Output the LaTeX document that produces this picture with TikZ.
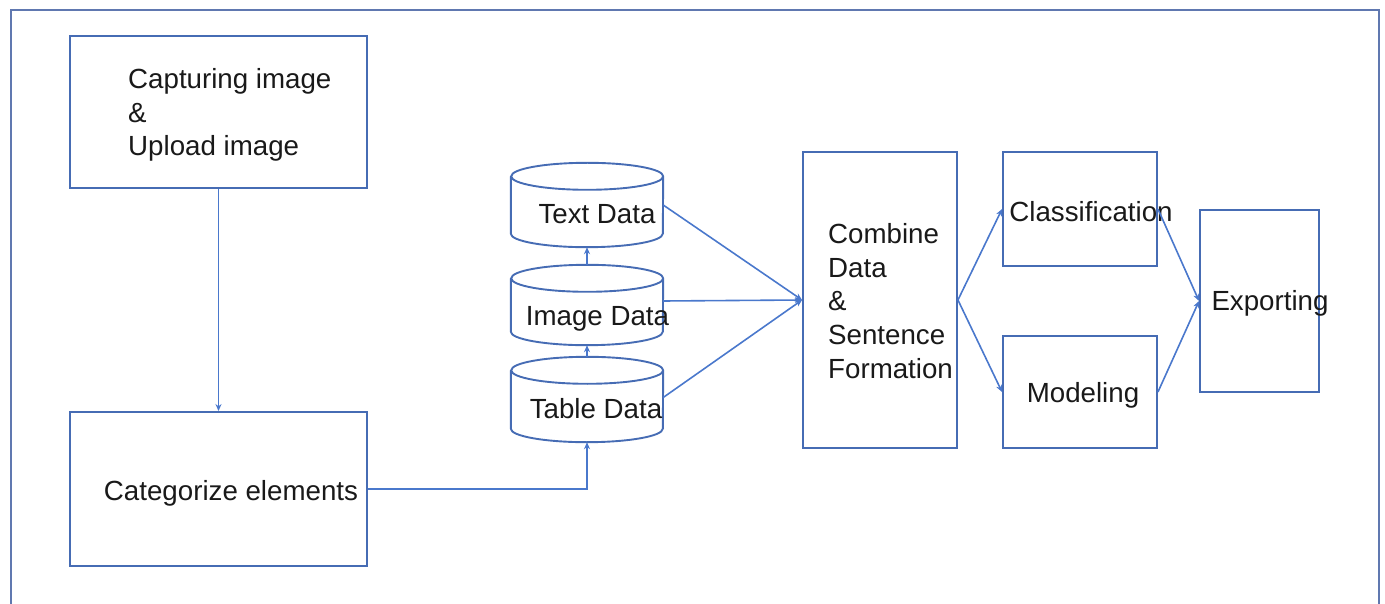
\documentclass[tikz,border=0pt]{standalone}
\usepackage{fontspec}
\setmainfont{Liberation Sans}
\usetikzlibrary{arrows.meta}
\definecolor{boxc}{RGB}{70,108,180}
\definecolor{linec}{RGB}{74,120,204}
\definecolor{framec}{RGB}{96,120,176}
\newcommand\drawcyl[1]{\draw[draw=boxc,line width=1.9pt]
  ([yshift=-13.5pt]#1.north west) -- ([yshift=13.5pt]#1.south west)
  arc[start angle=180,end angle=360,x radius=76pt,y radius=13.5pt]
  -- ([yshift=-13.5pt]#1.north east)
  arc[start angle=0,end angle=180,x radius=76pt,y radius=13.5pt]
  arc[start angle=180,end angle=360,x radius=76pt,y radius=13.5pt];}
\begin{document}
\begin{tikzpicture}[x=1pt,y=-1pt,
  font=\fontsize{27.7}{33.7}\selectfont,
  box/.style={draw=boxc,line width=1.9pt,inner sep=0pt},
  lbl/.style={inner sep=0pt,text=black!90,align=left},
  conn/.style={draw=linec,line width=1.6pt,-{Stealth[length=7pt,width=6pt]}},
  cylbox/.style={inner sep=0pt,minimum width=152pt}]
\useasboundingbox (0,0) rectangle (1385,604);
\clip (0,0) rectangle (1385,604);
% frame
\draw[framec,line width=2.4pt] (11,615) -- (11,10) -- (1379,10) -- (1379,615);
% boxes
\node[box,minimum width=297pt,minimum height=152pt] (cap) at (218.5,112) {};
\node[box,minimum width=297pt,minimum height=154pt] (cat) at (218.5,489) {};
\node[box,minimum width=154pt,minimum height=296pt] (comb) at (880,300) {};
\node[box,minimum width=154pt,minimum height=114pt] (cls) at (1080,209) {};
\node[box,minimum width=154pt,minimum height=112pt] (mod) at (1080,392) {};
\node[box,minimum width=119pt,minimum height=182pt] (exp) at (1259.5,301) {};
% cylinders
\node[cylbox,minimum height=84pt] (td) at (587,205) {};
\node[cylbox,minimum height=80pt] (img) at (587,305) {};
\node[cylbox,minimum height=85pt] (tbl) at (587,399.5) {};
\drawcyl{td}
\drawcyl{img}
\drawcyl{tbl}
% labels
\node[lbl,anchor=west] (cap-t) at (128,115) {Capturing image\\\&\\Upload image};
\node[lbl,anchor=base] (cat-t) at (231,500) {Categorize elements};
\node[lbl,anchor=base] (td-t) at (597,224) {Text Data};
\node[lbl,anchor=base] (img-t) at (597.5,326) {Image Data};
\node[lbl,anchor=base] (tbl-t) at (596,418) {Table Data};
\node[lbl,anchor=west] (comb-t) at (828,301) {Combine\\Data\\\&\\Sentence\\Formation};
\node[lbl,anchor=base] (cls-t) at (1091,222) {Classification};
\node[lbl,anchor=base] (mod-t) at (1083,402) {Modeling};
\node[lbl,anchor=base] (exp-t) at (1270,310) {Exporting};
% connectors
\draw[conn] (cap.south) -- (cat.north);
\draw[conn] (cat.east) -| (tbl.south);
\draw[conn] (tbl.north) -- (img.south);
\draw[conn] (img.north) -- (td.south);
\draw[conn] (td.east) -- (comb.west);
\draw[conn] ([yshift=4pt]img.east) -- (comb.west);
\draw[conn] ([yshift=2pt]tbl.east) -- (comb.west);
\draw[conn] (comb.east) -- (cls.west);
\draw[conn] (comb.east) -- (mod.west);
\draw[conn] (cls.east) -- (exp.west);
\draw[conn] (mod.east) -- (exp.west);
\end{tikzpicture}
\end{document}
